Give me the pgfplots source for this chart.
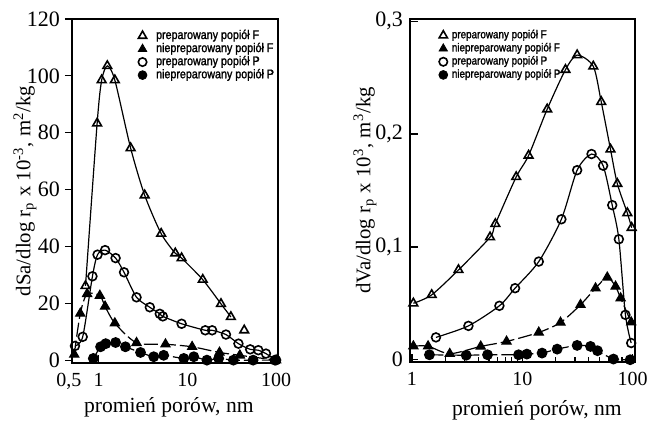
\documentclass[border=0pt]{standalone}
\usepackage{fontspec}
\setmainfont{Liberation Serif}
\newfontfamily\legfont[FakeStretch=0.85,FakeBold=1.5]{Liberation Sans}
\usepackage{pgfplots}
\pgfplotsset{compat=1.18}

\tikzset{
  oT/.style={black, line width=0.6pt, smooth, tension=0.45, mark=triangle,
    mark size=2.5pt, mark options={solid, fill=white, line width=0.8pt}},
  fT/.style={black, line width=0.6pt, smooth, tension=0.45, dash pattern=on 7pt off 2pt,
    mark=triangle*, mark size=2.6pt, mark options={solid, fill=black}},
  oC/.style={black, line width=0.6pt, smooth, tension=0.45, mark=o,
    mark size=2.2pt, mark options={solid, fill=white, line width=0.8pt}},
  fC/.style={black, line width=0.6pt, smooth, tension=0.45, dash pattern=on 7pt off 2pt,
    mark=*, mark size=2.4pt, mark options={solid, fill=black}},
}

\begin{document}
\begin{tikzpicture}
\useasboundingbox (0,0) rectangle (330pt,210.5pt);

% lewy wykres: powierzchnia
\begin{axis}[
  scale only axis, xmode=log,
  at={(36pt,29pt)}, anchor=south west,
  width=103pt, height=172pt,
  axis line style={line width=0.9pt},
  tick style={black, line width=0.6pt},
  major tick length=4pt, minor tick length=2.5pt,
  xtick pos=bottom, ytick pos=left,
  y tick style={xshift=-3.5pt},
  xticklabel style={font=\fontsize{10}{10}\selectfont, yshift=-1.5pt},
  yticklabel style={font=\fontsize{11}{11}\selectfont, xshift=-2.5pt},
  xlabel style={font=\fontsize{10.8}{12}\selectfont},
  ylabel style={font=\fontsize{10.4}{12}\selectfont},
  xmin=0.5, xmax=105, ymin=-1, ymax=120,
  xtick={0.5,1,10,100}, xticklabels={{\hspace*{-3pt}0,5},1,10,100},
  ytick={0,20,40,60,80,100,120}, yticklabels={0,20,40,60,80,100,120},
  xlabel={promień porów, nm},
  xlabel style={at={(axis description cs:0.47,-0.13)}, anchor=center},
  ylabel={dSa/dlog r\textsubscript{p} x 10\textsuperscript{-3}, m\textsuperscript{2}/kg},
  ylabel style={at={(axis description cs:-0.228,0.5)}, anchor=center},
  legend cell align=left,
  legend style={draw=none, fill=none, font=\legfont\fontsize{6.3}{7}\selectfont,
    row sep=-0.8pt, nodes={inner sep=0.6pt},
    at={(axis description cs:0.29,0.985)}, anchor=north west},
]
\addlegendimage{only marks, mark=triangle, mark size=2.4pt, mark options={fill=white, line width=0.8pt}}
\addlegendentry{\hspace{4pt}preparowany popiół F}
\addlegendimage{only marks, mark=triangle*, mark size=2.4pt}
\addlegendentry{\hspace{4pt}niepreparowany popiół F}
\addlegendimage{only marks, mark=o, mark size=2.1pt, mark options={line width=0.8pt}}
\addlegendentry{\hspace{4pt}preparowany popiół P}
\addlegendimage{only marks, mark=*, mark size=2.2pt}
\addlegendentry{\hspace{4pt}niepreparowany popiół P}

\addplot[fC, forget plot] coordinates {
  (0.87,0.6) (1.05,4.7) (1.2,5.8) (1.55,6.2) (2.0,4.7) (2.96,2.7) (4.17,1.2)
  (5.4,1.7) (9.1,0.6) (11.8,1.2) (16.6,0) (22.5,0.6) (33,0) (55,0) (97,0)
};
\addplot[fT, forget plot] coordinates {
  (0.53,2) (0.62,16.4) (0.74,23.3) (1.03,22.7) (1.18,18.9) (1.52,13.0)
  (2.67,6.1) (5.66,5.6) (11.3,4.7) (23,2.7) (39,1.7) (100,0)
};
\addplot[oC, forget plot] coordinates {
  (0.54,5.0) (0.66,8.2) (0.85,29.5) (0.97,37.1) (1.18,38.7) (1.55,35.9)
  (1.93,30.9) (2.67,22.1) (3.77,18.6) (4.88,16.3) (5.28,15.4) (8.6,12.8)
  (15.9,10.5) (19,10.5) (27.2,9.0) (37.6,5.8) (51,3.8) (63,3.5) (76.8,2.3) (100,0)
};
\addplot[oT, forget plot] coordinates {
  (0.71,26.1) (0.96,83.3) (1.08,98.5) (1.25,103.5) (1.52,98.5) (2.29,74.6)
  (3.3,58.0) (5.06,44.5) (7.3,37.6) (8.6,35.9) (14.9,28.3) (23.9,19.8) (30.9,15.2)
};
\addplot[oT, only marks, forget plot] coordinates {(43.7,10.5)};
\end{axis}

% prawy wykres: objetosc
\begin{axis}[
  scale only axis, xmode=log,
  at={(205pt,29.5pt)}, anchor=south west,
  width=112.5pt, height=171.5pt,
  axis line style={line width=0.9pt},
  tick style={black, line width=0.6pt},
  major tick length=4pt, minor tick length=2.5pt,
  xtick pos=bottom, ytick pos=left,
  xticklabel style={font=\fontsize{10}{10}\selectfont, yshift=-1.5pt},
  yticklabel style={font=\fontsize{11}{11}\selectfont},
  xlabel style={font=\fontsize{10.8}{12}\selectfont},
  ylabel style={font=\fontsize{10.4}{12}\selectfont},
  xmin=0.96, xmax=105, ymin=-0.002, ymax=0.302,
  xtick={1,10,100}, xticklabels={1,10,100},
  ytick={0,0.1,0.2,0.3}, yticklabels={0,{0,1},{0,2},{0,3}},
  xlabel={promień porów, nm},
  xlabel style={at={(axis description cs:0.564,-0.14)}, anchor=center},
  ylabel={dVa/dlog r\textsubscript{p} x 10\textsuperscript{3}, m\textsuperscript{3}/kg},
  ylabel style={at={(axis description cs:-0.2,0.5)}, anchor=center},
  legend cell align=left,
  legend style={draw=none, fill=none, font=\legfont\fontsize{5.8}{7}\selectfont,
    row sep=-0.4pt, nodes={inner sep=0.6pt},
    at={(axis description cs:0.1,0.985)}, anchor=north west},
]
\addlegendimage{only marks, mark=triangle, mark size=2.4pt, mark options={fill=white, line width=0.8pt}}
\addlegendentry{\hspace{1.5pt}preparowany popiół F}
\addlegendimage{only marks, mark=triangle*, mark size=2.4pt}
\addlegendentry{\hspace{1.5pt}niepreparowany popiół F}
\addlegendimage{only marks, mark=o, mark size=2.1pt, mark options={line width=0.8pt}}
\addlegendentry{\hspace{1.5pt}preparowany popiół P}
\addlegendimage{only marks, mark=*, mark size=2.2pt}
\addlegendentry{\hspace{1.5pt}niepreparowany popiół P}

\addplot[fC, forget plot] coordinates {
  (1.44,0.0044) (3.1,0.004) (4.84,0.0044) (9.25,0.0044) (11,0.005) (15.1,0.0059)
  (20.7,0.0094) (31.4,0.0127) (41.5,0.0118) (48,0.008) (67,0.0006) (95,0)
};
\addplot[fT, forget plot] coordinates {
  (1.03,0.012) (1.4,0.012) (2.2,0.0053) (4.2,0.0118) (7.2,0.0162) (14.1,0.0242)
  (22.2,0.033) (33.7,0.0487) (46.1,0.0634) (58.9,0.073) (70,0.0649) (77.8,0.0546) (97,0.0333)
};
\addplot[oC, forget plot] coordinates {
  (1.65,0.0198) (3.25,0.030) (6.2,0.0478) (8.6,0.0634) (14.1,0.087) (22.6,0.1245)
  (31.4,0.168) (42.4,0.1823) (54,0.172) (65.3,0.137) (75,0.1068) (86,0.0398) (97,0.0148)
};
\addplot[oT, forget plot] coordinates {
  (1.03,0.050) (1.51,0.0575) (2.64,0.0796) (5.1,0.1086) (5.7,0.1204) (8.8,0.162)
  (11.4,0.181) (16.8,0.222) (24.6,0.257) (31.4,0.270) (44,0.260) (51.9,0.2286)
  (63,0.1864) (72.6,0.156) (89.5,0.130) (98,0.117)
};
\end{axis}
\end{tikzpicture}
\end{document}
